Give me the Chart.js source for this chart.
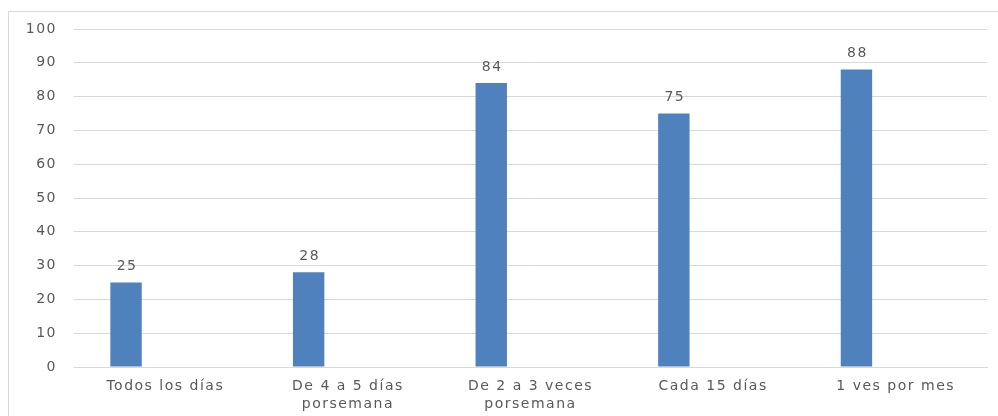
<!DOCTYPE html>
<html>
<head>
<meta charset="utf-8">
<script src="https://cdn.jsdelivr.net/npm/chart.js@4/dist/chart.umd.min.js"></script>
<style>
    body { margin: 0; background: #fff; }
    #frame {
        position: absolute;
        left: 8px;
        top: 11px;
        width: 1000px;
        height: 420px;
        border: 1px solid #d9d9d9;
    }
    #chart-container {
        position: absolute;
        left: 0;
        top: 0;
        width: 998px;
        height: 416px;
    }
</style>
</head>
<body>
<div id="frame"></div>
<div id="chart-container"><canvas></canvas></div>
<script>
const categories = [
    'Todos los días',
    ['De 4 a 5 días', 'porsemana'],
    ['De 2 a 3 veces', 'porsemana'],
    'Cada 15 días',
    '1 ves por mes',
];
const respuestas = [25, 28, 84, 75, 88];
const vacio = [null, null, null, null, null];

const textColor = '#595959';
const gridColor = '#d9d9d9';
const barColor = '#4f81bd';
const fontFamily = '"DejaVu Sans", Verdana, sans-serif';

// wider text spacing, set on the context before anything is drawn
const textSpacing = {
    id: 'textSpacing',
    beforeDraw(chart) {
        chart.ctx.letterSpacing = '1.5px';
    },
};

// value labels above each bar
const barValues = {
    id: 'barValues',
    afterDatasetsDraw(chart) {
        const ctx = chart.ctx;
        const meta = chart.getDatasetMeta(0);
        ctx.save();
        ctx.font = '14px ' + fontFamily;
        ctx.fillStyle = textColor;
        ctx.textAlign = 'center';
        ctx.textBaseline = 'bottom';
        meta.data.forEach((bar, i) => {
            ctx.fillText(respuestas[i], bar.x + 1, bar.y - 9);
        });
        ctx.restore();
    },
};

function createChart() {
    const chartCanvas = document.querySelector('#chart-container > canvas');

    new Chart(chartCanvas, {
        type: 'bar',
        data: {
            labels: categories,
            datasets: [
                {
                    data: respuestas,
                    backgroundColor: barColor,
                },
                {
                    data: vacio,
                    backgroundColor: barColor,
                },
            ],
        },
        options: {
            responsive: true,
            maintainAspectRatio: false,
            animation: false,
            categoryPercentage: 0.86,
            barPercentage: 0.4,
            layout: {
                padding: { left: 0, right: 11, top: 29, bottom: 0 },
            },
            plugins: {
                legend: { display: false },
                tooltip: { enabled: false },
            },
            scales: {
                x: {
                    grid: { display: false, drawTicks: false },
                    border: { display: true, color: gridColor },
                    ticks: {
                        color: textColor,
                        font: { family: fontFamily, size: 14, lineHeight: 1.3 },
                        padding: 10,
                        maxRotation: 0,
                        autoSkip: false,
                    },
                    afterFit: (scale) => { scale.height = 49; },
                },
                y: {
                    min: 0,
                    max: 100,
                    grid: { color: gridColor, drawTicks: false },
                    border: { display: false },
                    ticks: {
                        stepSize: 10,
                        color: textColor,
                        font: { family: fontFamily, size: 14 },
                        padding: 17,
                    },
                    afterFit: (scale) => { scale.width = 74; },
                },
            },
        },
        plugins: [textSpacing, barValues],
    });
}

createChart();
</script>
</body>
</html>
